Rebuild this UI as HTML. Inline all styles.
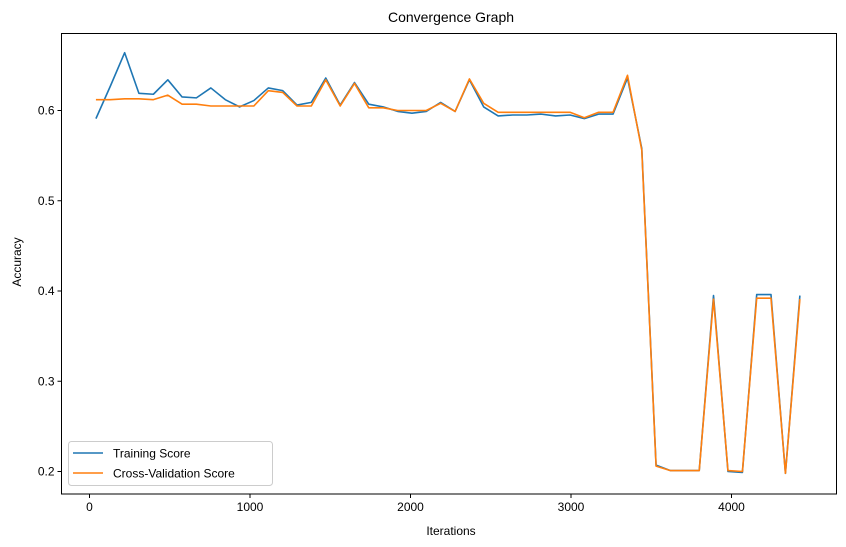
<!DOCTYPE html>
<html><head><meta charset="utf-8"><style>
body{margin:0;background:#fff}
svg{font-family:"Liberation Sans",sans-serif;display:block}
</style></head><body>
<svg id="chart" width="846" height="547">
<text x="451" y="22" text-anchor="middle" font-size="14">Convergence Graph</text>
<text x="451" y="535" text-anchor="middle" font-size="12">Iterations</text>
<text transform="translate(21,262) rotate(-90)" text-anchor="middle" font-size="12">Accuracy</text>
<g id="plot"></g>
</svg>
<script>
const iterations = [40,130,219,308,398,488,577,666,756,846,935,1024,1114,1204,1293,1382,1472,1562,1651,1740,1830,1920,2009,2098,2188,2278,2367,2456,2546,2636,2725,2814,2904,2994,3083,3172,3262,3352,3441,3530,3620,3710,3799,3888,3978,4068,4157,4246,4336,4426];
const trainScore = [0.591,0.627,0.664,0.619,0.618,0.634,0.615,0.614,0.625,0.612,0.604,0.611,0.625,0.622,0.606,0.609,0.636,0.606,0.631,0.607,0.604,0.599,0.597,0.599,0.609,0.599,0.634,0.604,0.594,0.595,0.595,0.596,0.594,0.595,0.591,0.596,0.596,0.636,0.558,0.207,0.201,0.201,0.201,0.395,0.200,0.199,0.396,0.396,0.198,0.395];
const cvScore = [0.612,0.612,0.613,0.613,0.612,0.617,0.607,0.607,0.605,0.605,0.605,0.605,0.622,0.620,0.605,0.605,0.634,0.605,0.630,0.603,0.603,0.600,0.600,0.600,0.608,0.599,0.635,0.608,0.598,0.598,0.598,0.598,0.598,0.598,0.592,0.598,0.598,0.639,0.556,0.206,0.201,0.201,0.201,0.391,0.201,0.200,0.392,0.392,0.198,0.391];
const xTicks = [0,1000,2000,3000,4000];
const yTicks = [0.2,0.3,0.4,0.5,0.6];

const L=61.5,R=836.5,T=33.5,B=494;
const xs = v => 89.5 + v * (250 - 89.5) / 1000;
const ys = v => 471.5 - (v - 0.2) * 902.5;
const NS="http://www.w3.org/2000/svg";
const g=document.getElementById('plot');
function mk(tag,attrs){const e=document.createElementNS(NS,tag);for(const k in attrs)e.setAttribute(k,attrs[k]);g.appendChild(e);return e;}

const frame=mk('rect',{x:L,y:T,width:R-L,height:B-T,fill:'none',stroke:'#000','stroke-width':1});



xTicks.forEach(t=>{
  const x=xs(t);
  const tk=mk('line',{x1:x,x2:x,y1:B,y2:B+4,stroke:'#000'});
  
  
  const tx=mk('text',{x:x,y:B+17,'text-anchor':'middle','font-size':12});
  tx.textContent=t;
  
  
});
yTicks.forEach(t=>{
  const y=ys(t);
  const tk=mk('line',{x1:L-4,x2:L,y1:y,y2:y,stroke:'#000'});
  
  
  const tx=mk('text',{x:L-7,y:y+4,'text-anchor':'end','font-size':12});
  tx.textContent=t.toFixed(1);
  
  
});

function line(vals,color,name){
  const d=vals.map((v,i)=>(i?'L':'M')+xs(iterations[i]).toFixed(2)+','+ys(v).toFixed(2)).join('');
  const p=mk('path',{d:d,fill:'none',stroke:color,'stroke-width':1.6,'stroke-linejoin':'round'});
  
  
}
line(trainScore,'#1f77b4','training-score-line');
line(cvScore,'#ff7f0e','cross-validation-score-line');

const lg=mk('rect',{x:68.5,y:441.5,width:204,height:44,rx:3,fill:'#fff',stroke:'#ccc'});


[['Training Score','#1f77b4',453],['Cross-Validation Score','#ff7f0e',473]].forEach(([t,c,y])=>{
  const l=mk('line',{x1:73,x2:103,y1:y,y2:y,stroke:c,'stroke-width':1.6});
  
  
  const tx=mk('text',{x:113,y:y+4.5,'font-size':12});
  tx.textContent=t;
  
  
});
</script>
</body></html>
